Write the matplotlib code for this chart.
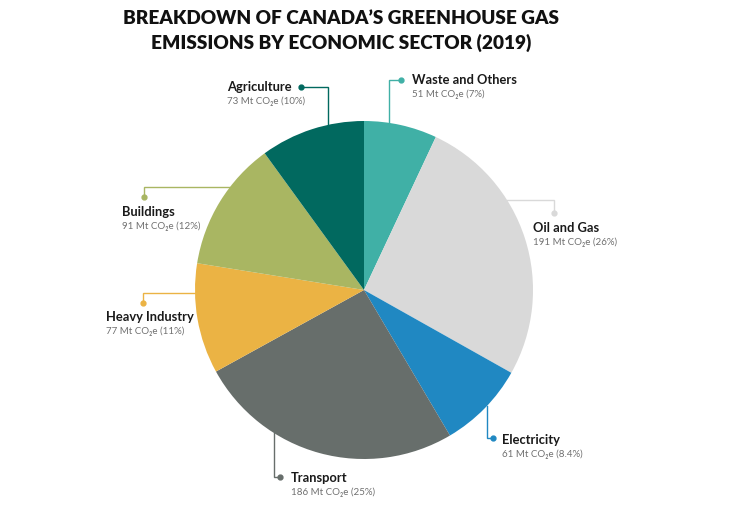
import matplotlib
matplotlib.use("Agg")
import matplotlib.pyplot as plt
import numpy as np

# ---- data ----
sectors = ["Waste and Others", "Oil and Gas", "Electricity", "Transport",
           "Heavy Industry", "Buildings", "Agriculture"]
emissions_mt = [51, 191, 61, 186, 77, 91, 73]
shares = ["7%", "26%", "8.4%", "25%", "11%", "12%", "10%"]
colors = ["#40b0a6", "#d9d9d9", "#2088c2", "#676e6b", "#ebb344", "#a9b662", "#01695f"]
title = "BREAKDOWN OF CANADA\u2019S GREENHOUSE GAS\nEMISSIONS BY ECONOMIC SECTOR (2019)"

# ---- layout (pixel coordinates) ----
W, H = 750, 517
CX, CY, R = 364, 290, 169
# (dot x, dot y, elbow x, elbow y, final direction to circle)
leaders = {
    "Waste and Others": (401, 80, 389, 80, "v"),
    "Oil and Gas": (554, 213, 554, 200, "h"),
    "Electricity": (493, 438, 487, 438, "v"),
    "Transport": (280, 477, 274, 477, "v"),
    "Heavy Industry": (143, 303, 143, 293, "h"),
    "Buildings": (144, 197, 144, 187, "h"),
    "Agriculture": (301, 87, 328, 87, "v"),
}
text_pos = {
    "Waste and Others": (412, 80),
    "Oil and Gas": (533, 228),
    "Electricity": (502, 440),
    "Transport": (291, 478),
    "Heavy Industry": (106, 317),
    "Buildings": (122, 212),
    "Agriculture": (227, 87),
}

fig = plt.figure(figsize=(W / 100, H / 100), dpi=100)
ax = fig.add_axes([0, 0, 1, 1])

# y axis inverted -> visual clockwise from top = data counterclockwise from -90
ax.pie(emissions_mt, colors=colors, startangle=-90, counterclock=True,
       center=(CX, CY), radius=R, frame=True,
       wedgeprops=dict(linewidth=0))
ax.set_xlim(0, W)
ax.set_ylim(H, 0)
ax.set_aspect("equal")
ax.axis("off")

fam = ["Lato", "DejaVu Sans"]
for name, col, val, sh in zip(sectors, colors, emissions_mt, shares):
    dx, dy, ex, ey, d = leaders[name]
    if d == "v":
        off = np.sqrt(R ** 2 - (ex - CX) ** 2)
        end = (ex, CY - off if ey < CY else CY + off)
    else:
        off = np.sqrt(R ** 2 - (ey - CY) ** 2)
        end = (CX - off if ex < CX else CX + off, ey)
    ax.plot([dx, ex, end[0]], [dy, ey, end[1]], color=col, lw=1.0,
            solid_joinstyle="miter", zorder=3)
    ax.plot([dx], [dy], "o", color=col, ms=3.5, zorder=4)
    tx, ty = text_pos[name]
    ax.text(tx, ty, name, fontsize=9.3, fontweight="bold", color="#1a1a1a",
            family=fam, ha="left", va="center")
    ax.text(tx, ty + 14, f"{val} Mt CO\u2082e ({sh})", fontsize=7.0,
            color="#707070", family=fam, ha="left", va="center")

ax.text(341, 31, title, fontsize=13.7, fontweight="heavy", color="#111111",
        family=fam, ha="center", va="center", linespacing=1.45)

fig.savefig("out.png", dpi=100, facecolor="white")
